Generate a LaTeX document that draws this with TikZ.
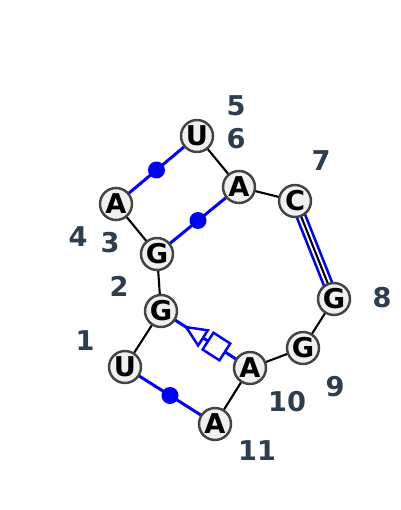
\documentclass[tikz,border=0pt]{standalone}
\usepackage{fontspec}
\setmainfont{DejaVu Sans}
\usetikzlibrary{calc}
\definecolor{numgray}{RGB}{47,62,79}
\definecolor{ntfill}{RGB}{240,240,240}
\definecolor{ntline}{RGB}{68,68,68}
\begin{document}
\begin{tikzpicture}[x=0.02cm,y=-0.02cm,
  nt/.style={circle,draw=ntline,fill=ntfill,line width=1.4pt,minimum size=0.64cm,inner sep=0pt,font=\fontsize{15.5}{15.5}\selectfont\bfseries},
  num/.style={text=numgray,font=\fontsize{15.5}{15.5}\selectfont\bfseries},
  bb/.style={black,line width=1.2pt},
  pr/.style={blue,line width=1.7pt},
  pdot/.style={circle,fill=blue,inner sep=0pt,minimum size=0.34cm}]
\useasboundingbox (0,0) rectangle (400,510);
% pairs and backbone
\path \foreach \i/\b/\x/\y in {1/U/125/367,2/G/161/311,3/G/157/254,4/A/116/204,5/U/197/136,6/A/239/187,
  7/C/295/201,8/G/334/299,9/G/303/348,10/A/250/368,11/A/215/424} {(\x,\y) coordinate (c\i)};
\draw[blue,line width=1.5pt,double=white,double distance=3.4pt,shorten <=0.3cm,shorten >=0.3cm] (c7) -- (c8);
\foreach \a/\b in {1/2,2/3,3/4,5/6,6/7,7/8,8/9,9/10,10/11}
  \draw[bb] (c\a) -- (c\b);
\foreach \a/\b in {4/5,3/6,1/11}
  \draw[pr] (c\a) -- (c\b) node[midway,pdot]{};
% sugar / hoogsteen
\draw[pr] (c2) -- (c10);
\coordinate (m) at ($(c2)!0.5!(c10)$);
\coordinate (tb) at ($(m)!0.06cm!(c2)$);
\draw[blue,line width=1.4pt,fill=white,line join=miter]
  ($(m)!0.46cm!(c2)$) -- ($(tb)!0.18cm!90:(c2)$) -- ($(tb)!0.18cm!-90:(c2)$) -- cycle;
\coordinate (sa) at ($(m)!0.06cm!(c10)$);
\coordinate (sb) at ($(m)!0.46cm!(c10)$);
\draw[blue,line width=1.4pt,fill=white]
  ($(sa)!0.2cm!90:(c10)$) -- ($(sb)!0.2cm!-90:(m)$) -- ($(sb)!0.2cm!90:(m)$) -- ($(sa)!0.2cm!-90:(c10)$) -- cycle;
% nucleotides
\foreach \i/\b in {1/U,2/G,3/G,4/A,5/U,6/A,7/C,8/G,9/G,10/A,11/A}
  \node[nt] (n\i) at (c\i) {\b};
\foreach \i/\x/\y in {1/85/341,2/119/286,3/110/243,4/78/237,5/236/106,6/236/139,7/321/161,
  8/382/298,9/335/387,10/287/402,11/257/451}
  \node[num] (l\i) at (\x,\y) {\i};
\end{tikzpicture}
\end{document}
